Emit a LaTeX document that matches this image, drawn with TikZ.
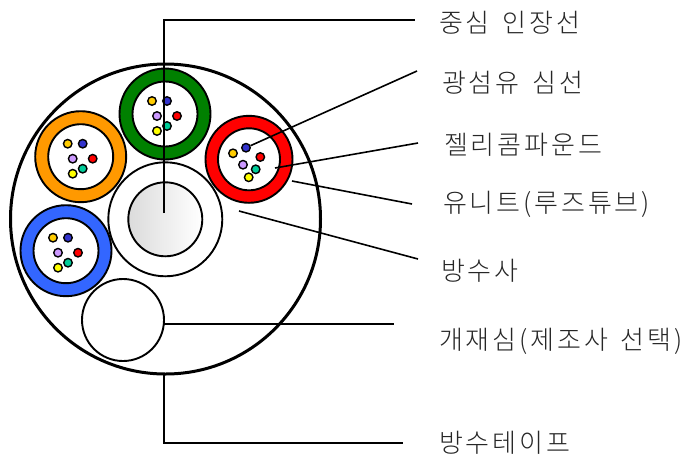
\documentclass[tikz,border=0pt]{standalone}
\usepackage{fontspec}
\setmainfont[LetterSpace=11,WordSpace=1.5]{Noto Sans CJK KR Light}
\tikzset{
 leader/.style={draw=black,line width=1.6pt},
 lab/.style={anchor=west,inner sep=0pt,font=\fontsize{26}{29}\selectfont,text=black!85},
 ring/.style={draw=black,line width=1.9pt,circle,inner sep=0pt},
 fib/.style={draw=black,line width=1.4pt,circle,inner sep=0pt,minimum size=8.5pt},
}
\definecolor{cY}{RGB}{255,204,0}\definecolor{cB}{RGB}{51,51,204}\definecolor{cP}{RGB}{204,153,255}
\definecolor{cR}{RGB}{255,0,0}\definecolor{cT}{RGB}{0,204,153}\definecolor{cL}{RGB}{255,255,0}
\definecolor{cGreen}{RGB}{0,128,0}\definecolor{cOrange}{RGB}{255,153,0}\definecolor{cBlue}{RGB}{51,102,255}
\newcommand{\fiberunit}[4]{% name, colour, x, y
 \node[ring,fill=#2,minimum size=91pt] (#1o) at (#3,#4) {};
 \node[ring,fill=white,minimum size=65pt] (#1i) at (#3,#4) {};
 \node[fib,fill=cY] (#1a) at ([shift={(-13,-13)}]#1o.center) {};
 \node[fib,fill=cB] (#1b) at ([shift={(2,-13)}]#1o.center) {};
 \node[fib,fill=cP] (#1c) at ([shift={(-8,2)}]#1o.center) {};
 \node[fib,fill=cR] (#1d) at ([shift={(12,2)}]#1o.center) {};
 \node[fib,fill=cT] (#1e) at ([shift={(2,12)}]#1o.center) {};
 \node[fib,fill=cL] (#1f) at ([shift={(-8,17)}]#1o.center) {};
}
\begin{document}
\begin{tikzpicture}[x=1pt,y=-1pt]
\useasboundingbox (0,0) rectangle (685,456);
\fill[white] (0,0) rectangle (685,456);
\node[draw=black,line width=3pt,circle,inner sep=0pt,fill=white,minimum size=310pt] (sheath) at (165.5,219) {};
\node[ring,fill=white,minimum size=114pt] (sand) at (165.3,219.3) {};
\node[ring,minimum size=74pt,shade,shading angle=45,left color=black!14,right color=white] (core) at (165.3,219.3) {};
\node[ring,fill=white,minimum size=82pt] (filler) at (123,320) {};
\fiberunit{g}{cGreen}{165}{114}
\fiberunit{o}{cOrange}{80.7}{156.7}
\fiberunit{u}{cBlue}{66}{250.7}
% red unit
\node[ring,fill=cR,minimum size=87pt] (ro) at (249,159.3) {};
\node[ring,fill=white,minimum size=62pt] (ri) at (249,159.3) {};
\node[fib,fill=cY] (ra) at (233,153.3) {};
\node[fib,fill=cB] (rb) at (246,147.7) {};
\node[fib,fill=cP] (rc) at (243,164.7) {};
\node[fib,fill=cR] (rd) at (260.3,157) {};
\node[fib,fill=cT] (re) at (255.7,169.3) {};
\node[fib,fill=cL] (rf) at (248.7,177.3) {};
% labels
\node[lab] (l1) at (439,23) {중심 인장선};
\node[lab] (l2) at (442,83) {광섬유 심선};
\node[lab] (l3) at (444,145) {젤리콤파운드};
\node[lab] (l4) at (443,204) {유니트(루즈튜브)};
\node[lab] (l5) at (441,271) {방수사};
\node[lab] (l6) at (439,341) {개재심(제조사 선택)};
\node[lab] (l7) at (439,443) {방수테이프};
% connector ends
\coordinate (c1) at (164,20);\coordinate (c1a) at (164,213);\coordinate (c1b) at (415,20);
\coordinate (c2) at (417,71);\coordinate (c3a) at (275,168);\coordinate (c3) at (418,143);
\coordinate (c4a) at (292,181);\coordinate (c4) at (412,204);
\coordinate (c5a) at (239,211);\coordinate (c5) at (418,259);
\coordinate (c6a) at (164,324);\coordinate (c6) at (394,324);
\coordinate (c7a) at (164,375);\coordinate (c7b) at (164,443);\coordinate (c7) at (403,443);
\draw[leader] (c1a) -- (c1) -- (c1b);
\draw[leader] (rb) -- (c2);
\draw[leader] (c3a) -- (c3);
\draw[leader] (c4a) -- (c4);
\draw[leader] (c5a) -- (c5);
\draw[leader] (c6a) -- (c6);
\draw[leader] (c7a) -- (c7b) -- (c7);
\end{tikzpicture}
\end{document}
